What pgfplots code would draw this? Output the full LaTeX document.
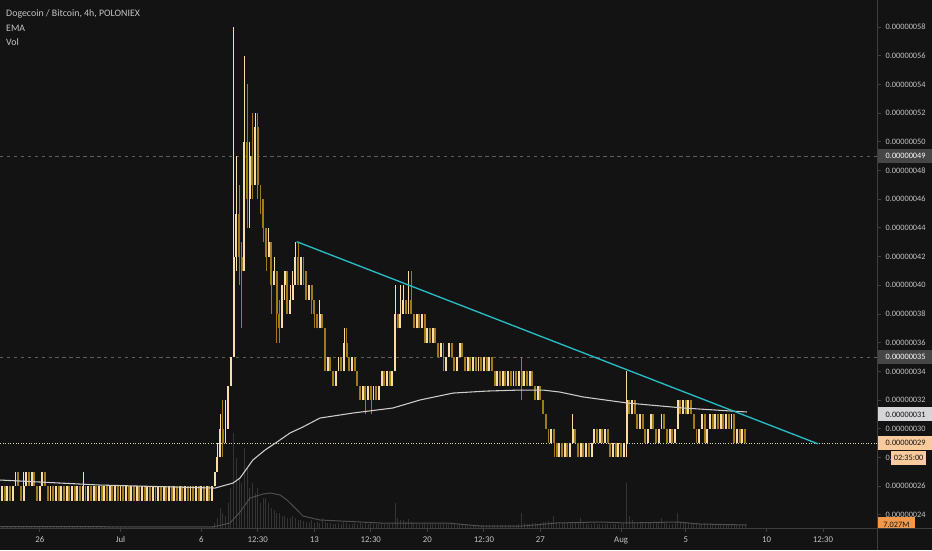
\documentclass[border=0pt]{standalone}
\usepackage{pgfplots}
\pgfplotsset{compat=1.18}
\usepackage{pgfplotstable}
\usepackage{fontspec}
\setmainfont{Carlito}

\definecolor{bg}{RGB}{19,19,19}
\definecolor{upc}{RGB}{250,220,168}
\definecolor{dnc}{RGB}{160,124,24}
\definecolor{axc}{RGB}{62,62,62}
\definecolor{txt}{RGB}{196,196,196}
\definecolor{emac}{RGB}{205,205,205}
\definecolor{trend}{RGB}{40,188,198}
\definecolor{volc}{RGB}{52,52,52}
\definecolor{vmac}{RGB}{78,78,78}
\definecolor{dashc}{RGB}{92,92,92}
\definecolor{pricec}{RGB}{225,212,190}
\definecolor{boxg}{RGB}{70,70,70}
\definecolor{boxl}{RGB}{214,214,216}
\definecolor{boxo}{RGB}{248,202,156}
\definecolor{boxv}{RGB}{242,152,72}

% o = open, c = close, h = high, l = low (units of 1e-8 BTC), v = volume bar height
\pgfplotstableread[row sep=\\]{
o c h l v \\
25 26 26 25 1 \\ 26 25 26 25 1 \\ 25 26 26 25 1 \\ 26 25 26 25 1 \\ 25 26 26 25 1 \\
26 27 27 26 2 \\ 27 26 27 26 1 \\ 26 25 26 25 1 \\ 25 26 27 25 1 \\ 26 27 27 26 2 \\
27 26 27 26 1 \\ 26 27 27 26 1 \\ 27 26 27 26 1 \\ 26 25 26 25 1 \\ 25 26 26 25 1 \\
26 27 27 26 2 \\ 27 26 27 26 1 \\ 26 25 26 25 1 \\ 25 26 26 25 1 \\ 26 25 26 25 1 \\
25 26 26 25 1 \\ 26 25 26 25 1 \\ 25 26 26 25 1 \\ 26 25 26 25 1 \\ 25 26 26 25 1 \\
26 25 26 25 1 \\ 25 26 26 25 1 \\ 26 25 26 25 1 \\ 25 26 26 25 1 \\ 26 25 26 25 1 \\
25 26 27 25 1 \\ 26 25 26 25 1 \\ 25 26 26 25 1 \\ 26 25 26 25 1 \\ 25 26 26 25 1 \\
26 25 26 25 1 \\ 25 26 26 25 1 \\ 26 25 26 25 1 \\ 25 26 26 25 1 \\ 26 25 26 25 1 \\
25 26 26 25 1 \\ 26 25 26 25 1 \\ 25 26 26 25 1 \\ 26 25 26 25 1 \\ 25 26 26 25 1 \\
26 25 26 25 1 \\ 25 26 26 25 1 \\ 26 25 26 25 1 \\ 25 26 26 25 1 \\ 26 25 26 25 1 \\
25 26 26 25 1 \\ 26 25 26 25 1 \\ 25 26 26 25 1 \\ 26 25 26 25 1 \\ 25 26 26 25 1 \\
26 25 26 25 1 \\ 25 26 26 25 1 \\ 26 25 26 25 1 \\ 25 26 26 25 1 \\ 26 25 26 25 1 \\
25 26 26 25 1 \\ 26 25 26 25 1 \\ 25 26 26 25 1 \\ 26 25 26 25 1 \\ 25 26 26 25 1 \\
26 25 26 25 1 \\ 25 26 26 25 1 \\ 26 25 26 25 1 \\ 25 26 26 25 1 \\ 26 25 26 25 1 \\
25 26 26 25 1 \\ 26 25 26 25 1 \\ 25 26 26 25 1 \\ 26 25 26 25 1 \\ 25 26 26 25 1 \\
26 25 26 25 1 \\ 25 26 26 25 1 \\ 26 25 26 25 1 \\ 25 26 26 25 2 \\
26 27 27 26 5 \\ 27 28 29 27 10 \\ 28 30 31 28 20 \\ 30 29 32 28 15 \\ 29 30 32 29 12 \\
30 33 33 30 25 \\ 33 35 35 33 40 \\ 35 42 58 35 95 \\ 42 45 49 41 70 \\ 45 42 47 40 50 \\
42 41 43 37 45 \\ 41 50 56 41 80 \\ 50 46 54 44 60 \\ 46 49 50 44 40 \\ 49 47 52 46 45 \\
47 51 52 47 35 \\ 51 47 52 46 40 \\ 47 46 47 45 25 \\ 46 44 46 43 30 \\ 44 42 44 41 30 \\
42 43 44 42 25 \\ 43 40 43 38 20 \\ 40 41 42 40 18 \\ 41 38 41 36 15 \\ 38 37 39 36 15 \\
37 40 40 37 12 \\ 40 41 41 39 12 \\ 41 38 41 38 10 \\ 38 39 40 38 10 \\ 39 40 41 39 12 \\
40 42 43 40 10 \\ 42 40 43 40 8 \\ 40 42 42 40 8 \\ 42 41 42 40 7 \\ 41 39 41 39 6 \\
39 40 40 39 6 \\ 40 39 40 38 8 \\ 39 38 39 37 5 \\ 38 37 38 37 6 \\ 37 38 39 37 5 \\
38 37 38 37 10 \\ 37 34 37 34 6 \\ 34 35 35 34 5 \\ 35 34 35 34 5 \\ 34 33 34 33 4 \\
33 34 34 33 4 \\ 34 35 35 34 5 \\ 35 34 35 34 4 \\ 34 36 37 34 6 \\ 36 35 37 35 5 \\
35 34 35 34 4 \\ 34 35 35 34 4 \\ 35 34 35 34 5 \\ 34 33 34 33 4 \\ 33 32 33 32 5 \\
32 33 33 32 4 \\ 33 32 33 31 6 \\ 32 33 33 32 4 \\ 33 32 33 31 6 \\ 32 33 33 32 4 \\
33 32 33 32 4 \\ 32 33 33 32 4 \\ 33 34 34 33 5 \\ 34 33 34 33 4 \\ 33 34 34 33 4 \\
34 33 34 33 4 \\ 33 34 34 33 5 \\ 34 38 40 34 25 \\ 38 37 38 37 10 \\ 37 38 40 37 8 \\
38 39 40 38 8 \\ 39 38 39 38 6 \\ 38 39 41 38 9 \\ 39 38 41 38 6 \\ 38 37 38 37 5 \\
37 38 38 37 4 \\ 38 37 38 37 4 \\ 37 38 38 37 4 \\ 38 36 38 36 5 \\ 36 37 37 36 4 \\
37 36 37 36 4 \\ 36 37 37 36 4 \\ 37 36 37 36 4 \\ 36 35 36 35 4 \\ 35 36 36 35 4 \\
36 34 36 34 5 \\ 34 35 35 34 4 \\ 35 36 36 35 4 \\ 36 35 36 35 4 \\ 35 34 35 34 4 \\
34 35 35 34 3 \\ 35 36 36 35 4 \\ 36 35 36 35 3 \\ 35 34 35 34 3 \\ 34 35 35 34 3 \\
35 34 35 34 3 \\ 34 35 35 34 3 \\ 35 34 35 34 3 \\ 34 35 35 34 3 \\ 35 34 35 34 3 \\
34 35 35 34 3 \\ 35 34 35 34 3 \\ 34 35 35 34 3 \\ 35 34 35 34 3 \\ 34 33 34 33 3 \\
33 34 34 33 3 \\ 34 33 34 33 3 \\ 33 34 34 33 3 \\ 34 33 34 33 3 \\ 33 34 34 33 3 \\
34 33 34 33 3 \\ 33 34 34 33 3 \\ 34 33 34 33 3 \\ 33 34 34 33 4 \\ 34 33 35 32 15 \\
33 34 34 33 5 \\ 34 33 34 33 4 \\ 33 34 34 33 4 \\ 34 33 34 33 5 \\ 33 32 33 32 5 \\
32 33 33 32 4 \\ 33 32 33 32 5 \\ 32 31 32 31 6 \\ 31 30 31 30 6 \\ 30 29 30 29 7 \\
29 30 30 29 6 \\ 30 29 30 28 12 \\ 29 28 29 28 6 \\ 28 29 29 28 5 \\ 29 28 29 28 5 \\
28 29 29 28 5 \\ 29 28 29 28 5 \\ 28 29 29 28 5 \\ 29 30 31 29 6 \\ 30 29 30 29 5 \\
29 28 29 28 5 \\ 28 29 29 28 10 \\ 29 28 29 28 5 \\ 28 29 29 28 4 \\ 29 28 29 28 4 \\
28 29 29 28 4 \\ 29 30 30 29 5 \\ 30 29 30 29 4 \\ 29 30 30 29 4 \\ 30 29 30 29 4 \\
29 30 30 29 4 \\ 30 29 30 29 4 \\ 29 28 29 28 4 \\ 28 29 29 28 4 \\ 29 28 29 28 4 \\
28 29 29 28 4 \\ 29 28 29 28 4 \\ 28 29 29 28 5 \\ 29 32 34 28 45 \\ 32 31 32 31 12 \\
31 32 32 31 8 \\ 32 31 32 31 6 \\ 31 30 31 30 6 \\ 30 31 31 30 5 \\ 31 30 31 30 5 \\
30 29 30 29 5 \\ 29 30 30 29 5 \\ 30 31 31 30 5 \\ 31 30 31 30 5 \\ 30 29 30 29 5 \\
29 30 30 29 5 \\ 30 31 31 30 10 \\ 31 30 31 30 5 \\ 30 29 30 29 5 \\ 29 30 30 29 4 \\
30 29 30 29 4 \\ 29 30 30 29 5 \\ 30 32 32 30 15 \\ 32 31 32 31 6 \\ 31 32 32 31 5 \\
32 31 32 31 5 \\ 31 32 32 31 5 \\ 32 31 32 31 5 \\ 31 30 31 30 4 \\ 30 29 30 29 4 \\
29 30 30 29 4 \\ 30 31 31 30 4 \\ 31 29 31 29 5 \\ 29 30 30 29 4 \\ 30 31 31 30 4 \\
31 30 31 30 4 \\ 30 31 31 30 4 \\ 31 30 31 30 4 \\ 30 31 31 30 4 \\ 31 30 31 30 4 \\
30 31 31 30 4 \\ 31 30 31 30 3 \\ 30 31 31 30 3 \\ 31 29 31 29 4 \\ 29 30 30 29 3 \\
30 29 30 29 3 \\ 29 30 30 29 3 \\ 30 29 30 29 3 \\
}\candles

\pgfplotsset{
  tvframe/.style={
    at={(0,0)}, anchor=south west, scale only axis,
    width=657.75pt, height=396pt,
    xmin=-7.4613, xmax=46.842,
  },
  candle/.style={only marks, mark=none, mark size=0pt,
    error bars/.cd, y dir=plus, y explicit,
    error mark=none, error bar style={line cap=butt, #1}},
}

\begin{document}
\begin{tikzpicture}
\fill[bg] (0,-16.5pt) rectangle (699pt,396pt);

% volume pane (overlay, behind candles)
\begin{axis}[tvframe, ymin=0, ymax=528, hide axis]
\addplot[ycomb, volc, line width=0.6pt, mark=none]
  table[x expr={-7.3333+\coordindex/6}, y=v] {\candles};
\addplot[vmac, line width=0.75pt, mark=none] coordinates {
(-7.46,1.5) (5.73,1) (6.78,5) (7.40,16) (8.02,30) (8.83,34) (9.26,35) (9.88,33)
(10.31,28) (10.81,20) (11.30,12) (12.35,8) (16.07,5) (20.22,5) (22.26,2) (24.92,2)
(27.02,5) (29.69,6) (31.36,5) (34.46,6) (35.88,4) (38.79,3)};
\end{axis}

% price pane
\begin{axis}[tvframe,
  ymin=23.087, ymax=59.882,
  axis x line*=bottom, axis y line*=right,
  axis line style={-, axc, line width=0.75pt},
  tick style={axc, line width=0.75pt}, major tick length=3pt, tick align=outside,
  ytick={24,26,...,58},
  yticklabels={0.00000024,0.00000026,0.,0.00000030,0.00000032,0.00000034,
    0.00000036,0.00000038,0.00000040,0.00000042,0.00000044,0.00000046,0.00000048,
    0.00000050,0.00000052,0.00000054,0.00000056,0.00000058},
  xtick={-5,0,5,8.5,12,15.5,19,22.5,26,31,35,40,43.5},
  xticklabels={26,Jul,6,12:30,13,12:30,20,12:30,27,Aug,5,10,12:30},
  yticklabel style={font=\fontsize{6.2}{7}\selectfont, text=txt},
  xticklabel style={font=\fontsize{6.6}{8}\selectfont, text=txt},
]
% reference lines
\addplot[dashc, line width=0.75pt, dash pattern=on 2.6pt off 2.6pt] coordinates {(-7.4613,49) (46.842,49)};
\addplot[dashc, line width=0.75pt, dash pattern=on 2.6pt off 2.6pt] coordinates {(-7.4613,35) (46.842,35)};
\addplot[pricec, line width=0.75pt, dash pattern=on 0.75pt off 1.2pt] coordinates {(-7.4613,29) (46.842,29)};

% wicks (from low, up to high)
\addplot[candle={line width=0.45pt, draw=dnc}]
  table[x expr={-7.3333+\coordindex/6},
        y expr={\thisrow{c}<\thisrow{o} ? \thisrow{l} : nan},
        y error expr={\thisrow{h}-\thisrow{l}}] {\candles};
\addplot[candle={line width=0.45pt, draw=upc}]
  table[x expr={-7.3333+\coordindex/6},
        y expr={\thisrow{c}>\thisrow{o} ? \thisrow{l} : nan},
        y error expr={\thisrow{h}-\thisrow{l}}] {\candles};
% bodies (from the lower of open and close)
\addplot[candle={line width=1.45pt, draw=dnc}]
  table[x expr={-7.3333+\coordindex/6},
        y expr={\thisrow{c}<\thisrow{o} ? \thisrow{c} : nan},
        y error expr={\thisrow{o}-\thisrow{c}}] {\candles};
\addplot[candle={line width=1.45pt, draw=upc}]
  table[x expr={-7.3333+\coordindex/6},
        y expr={\thisrow{c}>\thisrow{o} ? \thisrow{o} : nan},
        y error expr={\thisrow{c}-\thisrow{o}}] {\candles};

% EMA
\addplot[emac, line width=0.8pt, mark=none] coordinates {
(-7.46,26.43) (-1.27,26.08) (5.85,25.87) (6.97,26.22) (7.40,26.57) (8.20,27.83)
(8.95,28.52) (9.69,29.08) (10.50,29.71) (11.30,30.13) (12.35,30.75) (14.40,31.10)
(16.87,31.45) (18.55,32.01) (20.59,32.49) (22.69,32.63) (24.74,32.70) (26.16,32.70)
(27.21,32.56) (28.64,32.22) (31.36,31.80) (34.83,31.45) (38.79,31.17)};
% trend line
\addplot[trend, line width=1pt, mark=none] coordinates {(10.91,43.04) (43.19,28.95)};
\end{axis}

% annotations on top
\begin{axis}[tvframe, ymin=23.087, ymax=59.882, hide axis, clip=false]
\draw[axc, line width=0.75pt] (axis cs:46.842,59.882) -- (axis cs:46.842,21.55);
\draw[axc, line width=0.75pt] (axis cs:-7.4613,23.087) -- (axis cs:50.26,23.087);
\node[anchor=west, text=txt, font=\fontsize{7.4}{9}\selectfont, inner sep=0pt]
  at (rel axis cs:0.0068,0.9735) {Dogecoin / Bitcoin, 4h, POLONIEX};
\node[anchor=west, text=txt, font=\fontsize{7.4}{9}\selectfont, inner sep=0pt]
  at (rel axis cs:0.0068,0.947) {EMA};
\node[anchor=west, text=txt, font=\fontsize{7.4}{9}\selectfont, inner sep=0pt]
  at (rel axis cs:0.0068,0.9205) {Vol};
% price scale labels
\fill[boxg] (axis cs:46.88,48.51) rectangle (axis cs:50.26,49.49);
\node[anchor=west, text=white, font=\fontsize{6.2}{7}\selectfont] at (axis cs:47.09,49) {0.00000049};
\fill[boxg] (axis cs:46.88,34.51) rectangle (axis cs:50.26,35.49);
\node[anchor=west, text=white, font=\fontsize{6.2}{7}\selectfont] at (axis cs:47.09,35) {0.00000035};
\fill[boxl] (axis cs:46.88,30.51) rectangle (axis cs:50.26,31.49);
\node[anchor=west, text=bg, font=\fontsize{6.2}{7}\selectfont] at (axis cs:47.09,31) {0.00000031};
\fill[boxo] (axis cs:46.88,28.51) rectangle (axis cs:50.26,29.49);
\node[anchor=west, text=bg, font=\fontsize{6.2}{7}\selectfont] at (axis cs:47.09,29) {0.00000029};
\fill[boxo] (axis cs:47.71,27.48) rectangle (axis cs:49.88,28.45);
\node[text=bg, font=\fontsize{6.2}{7}\selectfont, inner sep=0pt] at (axis cs:48.8,27.97) {02:35:00};
\begin{scope}
\clip (axis cs:46.88,23.10) rectangle (axis cs:49.2,23.85);
\fill[boxv] (axis cs:46.88,23.10) rectangle (axis cs:49.2,23.85);
\node[anchor=west, text=bg, font=\fontsize{6.2}{7}\selectfont] at (axis cs:46.95,23.3) {7.027M};
\end{scope}
\end{axis}
\pgfresetboundingbox
\useasboundingbox (0,-16.5pt) rectangle (699pt,396pt);
\end{tikzpicture}
\end{document}
